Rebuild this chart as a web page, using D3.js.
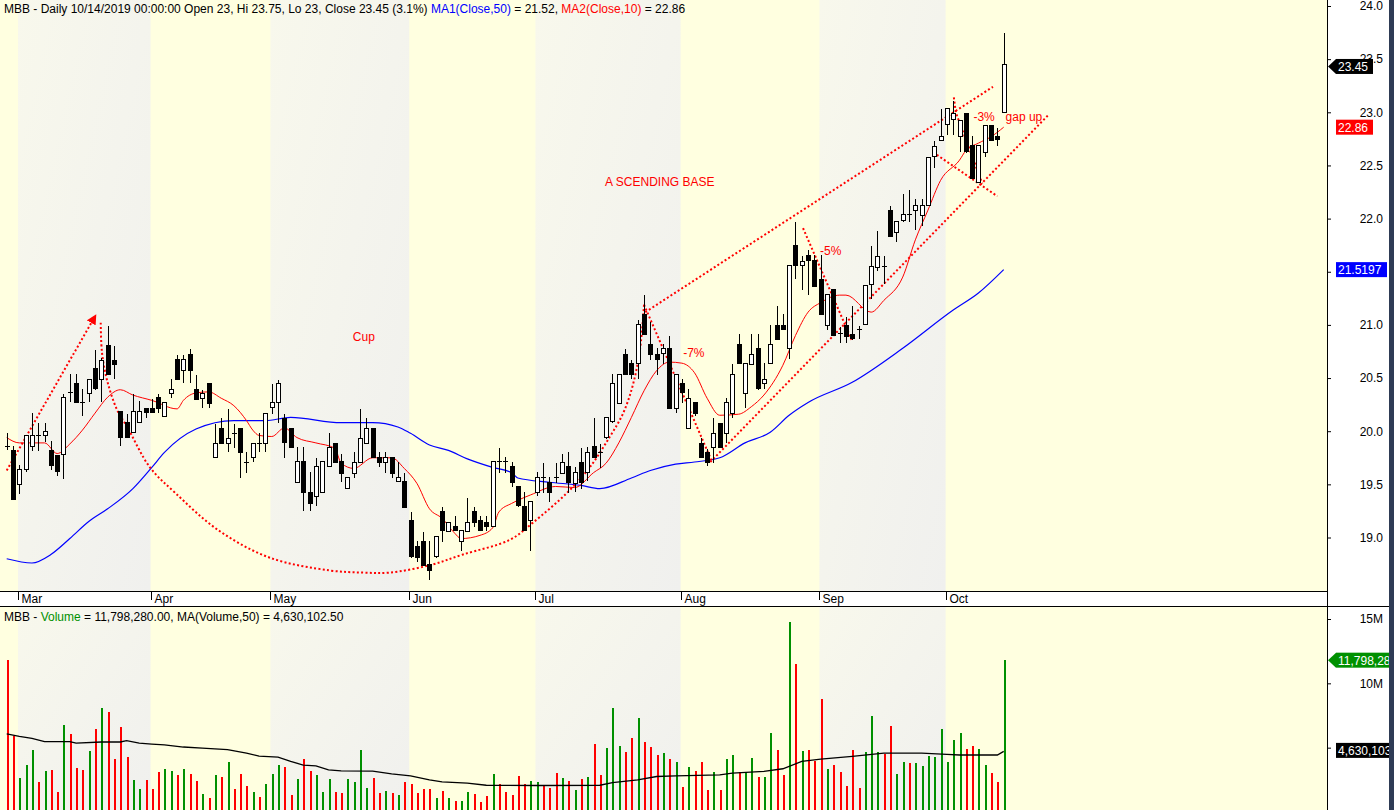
<!DOCTYPE html>
<html>
<head>
<meta charset="utf-8">
<script src="https://d3js.org/d3.v7.min.js"></script>
<style>
  body { margin: 0; background: #fff; }
  svg text { font-family: "Liberation Sans", Arial, sans-serif; font-size: 12px; }
</style>
</head>
<body>
<svg width="1394" height="810"></svg>
<script>
// ---- data (index 0 = 27 Feb 2019, last = 14 Oct 2019) ----
const opens  = [19.86,19.82,19.50,19.64,19.86,19.96,19.96,19.82,19.78,19.78,20.37,20.45,20.27,20.36,20.59,20.49,20.81,20.67,20.19,20.09,
  19.99,20.09,20.22,20.22,20.32,20.14,20.36,20.68,20.58,20.73,20.40,20.31,20.45,19.76,20.03,19.89,19.98,20.03,19.71,19.76,
  19.89,19.89,20.22,20.27,20.12,20.03,19.52,19.72,19.43,19.39,19.43,19.67,19.89,19.72,19.47,19.61,19.71,19.89,20.03,19.76,
  19.71,19.76,19.53,19.53,19.16,18.92,18.97,18.75,18.82,19.25,19.07,19.11,18.97,19.07,19.25,19.16,19.15,19.11,19.72,19.72,
  19.67,19.48,19.30,19.16,19.43,19.57,19.52,19.57,19.61,19.67,19.52,19.71,19.61,19.86,19.80,19.94,20.09,20.27,20.73,20.64,
  20.64,21.10,20.82,20.73,20.73,20.78,20.22,20.45,20.03,20.27,19.89,19.80,19.85,20.08,19.98,20.17,20.82,20.36,20.64,20.78,
  20.45,20.64,21.00,21.00,20.78,21.75,21.56,21.66,21.61,21.43,21.00,21.34,20.92,21.00,20.91,20.96,21.01,21.38,21.55,21.55,
  22.08,21.88,21.98,22.04,22.08,22.04,22.13,22.59,22.74,22.89,22.93,22.78,22.99,22.69,22.34,22.63,22.88,22.78,23.00];
const highs  = [19.98,19.86,19.68,19.96,20.17,20.08,20.08,19.91,19.78,20.35,20.54,20.54,20.40,20.49,20.76,20.69,20.99,20.80,20.19,20.16,
  20.35,20.28,20.22,20.30,20.35,20.27,20.49,20.72,20.72,20.77,20.53,20.39,20.45,20.07,20.12,20.21,20.07,20.03,19.80,19.89,
  19.98,20.17,20.44,20.48,20.16,20.03,19.85,19.85,19.62,19.75,19.72,19.98,19.89,19.79,19.57,19.80,20.21,20.12,20.03,19.80,
  19.80,19.76,19.71,19.61,19.24,18.97,19.05,18.97,19.01,19.29,19.15,19.20,19.07,19.37,19.29,19.20,19.20,19.72,19.84,19.76,
  19.71,19.48,19.43,19.34,19.62,19.70,19.57,19.70,19.79,19.80,19.66,19.84,19.85,20.12,19.88,20.13,20.54,20.54,20.77,20.67,
  21.05,21.28,21.03,20.78,20.82,20.90,20.54,20.49,20.40,20.27,19.94,19.83,20.12,20.08,20.31,20.63,20.91,20.64,20.91,20.91,
  20.64,21.00,21.18,21.10,21.56,21.97,21.65,21.70,21.66,21.66,21.29,21.34,20.98,21.07,21.18,20.99,21.38,21.74,21.88,21.65,
  22.12,21.98,22.23,22.27,22.18,22.18,22.58,22.73,23.03,23.04,23.11,22.93,22.99,22.78,22.69,22.88,22.88,22.85,23.75];
const lows   = [19.83,19.36,19.42,19.63,19.82,19.82,19.91,19.64,19.59,19.56,20.28,20.27,20.15,20.28,20.40,20.28,20.54,20.50,19.87,19.95,
  19.99,20.09,20.13,20.18,20.18,20.14,20.32,20.49,20.46,20.46,20.31,20.23,20.23,19.76,19.89,19.81,19.85,19.57,19.62,19.72,
  19.81,19.81,20.17,20.09,19.76,19.85,19.52,19.26,19.26,19.31,19.43,19.67,19.71,19.53,19.47,19.57,19.71,19.89,19.76,19.67,
  19.62,19.57,19.53,19.29,18.82,18.78,18.74,18.61,18.82,18.97,19.07,19.07,18.88,19.07,19.11,19.07,19.07,19.11,19.62,19.62,
  19.48,19.30,19.07,18.88,19.40,19.43,19.34,19.52,19.61,19.43,19.44,19.47,19.54,19.76,19.66,19.94,20.09,20.27,20.54,20.50,
  20.50,20.91,20.68,20.54,20.64,20.22,20.18,20.27,20.03,20.15,19.76,19.68,19.71,19.85,19.90,20.13,20.64,20.23,20.64,20.40,
  20.41,20.64,20.87,20.96,20.69,21.44,21.34,21.29,21.37,21.10,20.96,20.91,20.84,20.84,20.87,20.88,21.01,21.25,21.52,21.39,
  21.84,21.79,21.98,21.98,21.90,21.94,22.13,22.49,22.74,22.80,22.80,22.64,22.63,22.38,22.34,22.59,22.74,22.69,23.00];
const closes = [19.86,19.36,19.64,19.96,19.96,19.96,20.00,19.68,19.63,20.32,20.37,20.27,20.27,20.49,20.40,20.67,20.54,20.63,19.95,19.95,
  20.19,20.19,20.18,20.18,20.22,20.27,20.40,20.49,20.68,20.58,20.31,20.36,20.26,19.89,19.89,19.94,19.98,19.80,19.71,19.89,
  19.89,20.17,20.27,20.45,19.89,19.85,19.72,19.43,19.33,19.67,19.72,19.85,19.71,19.61,19.57,19.71,19.94,20.03,19.76,19.71,
  19.76,19.61,19.57,19.29,18.82,18.82,18.74,18.69,19.01,19.07,19.15,19.07,19.07,19.15,19.15,19.07,19.11,19.72,19.72,19.72,
  19.52,19.30,19.07,19.34,19.57,19.57,19.43,19.57,19.71,19.52,19.62,19.52,19.80,19.76,19.80,20.13,20.45,20.54,20.54,20.54,
  21.01,20.91,20.73,20.68,20.78,20.22,20.54,20.37,20.31,20.17,19.76,19.71,19.98,19.85,20.27,20.54,20.64,20.64,20.73,20.40,
  20.49,20.82,20.87,20.96,21.56,21.56,21.60,21.61,21.37,21.10,21.29,20.91,20.92,20.90,20.87,20.96,21.38,21.55,21.65,21.55,
  21.84,21.98,22.04,22.04,22.13,22.13,22.58,22.68,22.78,23.04,22.99,22.93,22.63,22.38,22.69,22.88,22.74,22.75,23.45];
// volume in millions of shares
const volumes = [11.82,5.88,2.68,3.67,4.84,2.34,3.20,3.28,1.56,6.80,6.09,3.44,3.28,4.77,6.48,8.05,7.81,4.14,6.64,4.30,
  2.50,1.80,2.50,1.80,3.13,3.36,3.20,2.89,3.36,2.97,2.42,1.41,1.09,2.89,2.73,3.91,1.80,2.97,2.03,1.56,
  1.17,2.19,2.97,3.67,3.52,1.33,2.58,4.14,3.20,2.89,1.56,2.58,1.56,1.48,2.58,2.34,4.84,1.88,2.66,1.48,
  1.64,1.48,1.33,2.34,2.19,1.48,1.80,1.80,1.09,1.64,1.09,0.86,0.86,1.56,1.41,0.78,1.25,2.97,2.19,1.56,
  1.33,2.81,2.19,2.42,2.34,2.11,1.88,3.05,2.66,2.42,1.72,2.58,2.73,5.31,2.89,5.00,8.05,5.16,4.69,5.78,
  7.34,5.47,5.08,4.45,4.61,4.14,3.91,1.95,3.52,3.20,3.91,1.72,3.13,1.72,4.14,4.45,3.13,3.13,4.22,2.73,
  2.73,6.17,4.84,2.89,14.77,11.48,4.77,4.84,3.98,8.75,3.36,3.67,3.13,2.03,4.84,1.88,4.69,7.50,4.69,4.53,
  6.72,2.97,3.91,3.83,3.83,3.59,4.38,4.30,6.48,3.91,5.63,6.17,4.92,5.16,4.92,3.67,3.05,2.34,11.80];

// moving averages as drawn (sampled along the lines)
const ma50Idx = [0,4,7,10,13,16,20,23,25,30,36,41,45,53,58,62,64,67,70,73,77,80,81,86,91,94,99,102,106,109,113,117,121,124,127,134,142,150,154,158];
const ma50Val = [18.80,18.76,18.84,18.99,19.15,19.27,19.46,19.66,19.80,20.02,20.10,20.10,20.13,20.08,20.08,20.04,19.98,19.87,19.82,19.74,19.66,19.61,19.56,19.52,19.49,19.46,19.56,19.63,19.69,19.71,19.75,19.89,19.99,20.15,20.27,20.46,20.78,21.14,21.30,21.52];
const ma10Idx = [0,2,6,8,10,12,14,16,18,20,23,27,28,30,32,34,36,38,39,40,42,44,46,49,52,53,55,58,61,63,65,67,69,71,72,75,77,78,80,81,83,87,90,93,95,97,99,101,103,105,107,109,111,113,116,118,120,123,125,127,129,132,133,137,139,142,144,146,148,151,152,154,156,158];
const ma10Val = [19.94,19.89,19.89,19.79,19.88,20.01,20.17,20.32,20.39,20.34,20.29,20.21,20.29,20.36,20.37,20.31,20.24,20.10,20.01,19.96,19.95,20.03,19.94,19.89,19.84,19.70,19.65,19.75,19.75,19.65,19.51,19.27,19.18,19.04,18.99,19.02,19.09,19.24,19.32,19.35,19.40,19.48,19.47,19.61,19.70,19.89,20.13,20.38,20.57,20.65,20.64,20.55,20.31,20.15,20.16,20.23,20.34,20.62,20.90,21.12,21.21,21.28,21.28,21.12,21.23,21.45,21.80,22.08,22.36,22.55,22.64,22.71,22.77,22.86];
const volMaIdx = [0,2,4,6,10,11,15,18,19,21,23,25,28,31,35,38,40,43,45,47,49,51,53,58,61,64,67,69,73,76,84,94,96,100,103,106,113,115,120,123,126,129,134,139,145,149,151,157,158];
const volMaVal = [6.07,5.88,5.72,5.47,5.47,5.36,5.44,5.44,5.55,5.36,5.28,5.21,5.05,4.97,4.84,4.58,4.35,4.27,3.93,3.65,3.59,3.28,3.20,3.18,2.97,2.81,2.50,2.34,2.24,2.08,2.06,2.08,2.29,2.50,2.76,2.81,2.89,3.02,3.15,3.36,3.93,4.11,4.32,4.58,4.58,4.48,4.43,4.43,4.71];

const monthLabels = ["Mar","Apr","May","Jun","Jul","Aug","Sep","Oct"];
const monthStart  = [2, 23, 42, 64, 84, 107, 129, 149];
const priceTicks  = [19.0,19.5,20.0,20.5,21.0,21.5,22.0,22.5,23.0,23.5,24.0];
const volTicks    = [5, 10, 15];

// hand-drawn annotations: [candle index, price]
const leftRise      = [[0,19.63],[13.8,21.06]];
const cupCurve      = [[14.9,21.02],[15.1,20.74],[15.9,20.48],[17.5,20.20],[19.1,20.04],[22.7,19.66],[26.7,19.42],[33.5,19.07],[41.7,18.81],[51.2,18.69],[56.5,18.67],[60.7,18.67],[67.1,18.74],[72.3,18.84],[79.8,18.98],[83.4,19.14],[88.8,19.42],[92.4,19.66],[95.6,19.95],[97.7,20.17],[99.3,20.45],[100.4,20.79],[101.0,21.19]];
const channelTop    = [[101.2,21.12],[156.3,23.24]];
const channelBottom = [[111.5,19.71],[165.0,22.97]];
const drop7         = [[101.0,21.19],[111.8,19.71]];
const drop5         = [[126.2,21.91],[133.9,20.86]];
const drop3         = [[150.1,23.14],[150.4,23.00],[154.6,22.33]];
const crossLine     = [[147.4,22.60],[157.0,22.21]];
const noteText  = ["Cup","A SCENDING BASE","-7%","-5%","-3%","gap up"];
const noteIdx   = [56.6, 103.5, 107.2, 128.9, 153.2, 158.3];
const notePrice = [20.89, 22.35, 20.74, 21.70, 22.96, 22.96];
const noteAnchor = ["middle","middle","start","start","start","start"];

// ---- layout ----
const svg = d3.select("svg");
const plotRight = 1327, borderX = 1389, W = 1394, H = 810;
const priceBottom = 591, volTop = 607;

const x  = d3.scaleLinear().domain([0, 158]).range([6.7, 1003.7]);
const y  = d3.scaleLinear().domain([19, 24]).range([537.5, 6]);
const yv = d3.scaleLinear().domain([0, 15]).range([812, 619]);
const px = i => Math.round(x(i));

const defs = svg.append("defs");
const grad = defs.append("linearGradient").attr("id", "shade").attr("x1", 0).attr("x2", 1).attr("y1", 0).attr("y2", 1);
grad.append("stop").attr("offset", 0).attr("stop-color", "#F8F8EC");
grad.append("stop").attr("offset", 1).attr("stop-color", "#F0F0EE");
defs.append("clipPath").attr("id", "clipP").append("rect").attr("x", 0).attr("y", 0).attr("width", plotRight).attr("height", priceBottom);
defs.append("clipPath").attr("id", "clipV").append("rect").attr("x", 0).attr("y", volTop).attr("width", plotRight).attr("height", H - volTop);
defs.append("marker").attr("id", "arrow").attr("viewBox", "0 0 10 10").attr("refX", 5).attr("refY", 5)
  .attr("markerWidth", 5).attr("markerHeight", 5).attr("orient", "auto").attr("markerUnits", "strokeWidth")
  .append("path").attr("d", "M0,0 L10,5 L0,10 z").attr("fill", "#FF0000");

// backgrounds
svg.append("rect").attr("x", 0).attr("y", 0).attr("width", plotRight).attr("height", H).attr("fill", "#FFFFE0");
svg.append("rect").attr("x", plotRight).attr("y", 0).attr("width", borderX - plotRight).attr("height", H).attr("fill", "#fff");

const bandEdge = k => k < monthStart.length ? x(monthStart[k]) - 1.3 : plotRight;
const shaded = [0, 2, 4, 6];
[[0, priceBottom], [volTop, H]].forEach(([t, b]) => {
  svg.append("g").selectAll("rect").data(shaded).join("rect")
    .attr("x", k => bandEdge(k)).attr("y", t)
    .attr("width", k => bandEdge(k + 1) - bandEdge(k)).attr("height", b - t)
    .attr("fill", "url(#shade)");
});

// date strip
svg.append("rect").attr("x", 0).attr("y", priceBottom).attr("width", plotRight).attr("height", volTop - priceBottom).attr("fill", "#fff");
svg.append("line").attr("x1", 0).attr("x2", plotRight).attr("y1", priceBottom + 0.5).attr("y2", priceBottom + 0.5).attr("stroke", "#000");
svg.append("line").attr("x1", 0).attr("x2", borderX).attr("y1", volTop - 0.5).attr("y2", volTop - 0.5).attr("stroke", "#000");
const mG = svg.append("g").selectAll("g").data(monthLabels).join("g")
  .attr("transform", (d, k) => `translate(${Math.round(bandEdge(k)) + 0.5},0)`);
mG.append("line").attr("y1", priceBottom + 1).attr("y2", priceBottom + 9).attr("stroke", "#000");
mG.append("text").attr("x", 3).attr("y", priceBottom + 12).attr("fill", "#000").text(d => d);

// price panel
const pG = svg.append("g").attr("clip-path", "url(#clipP)");
const idx = d3.range(opens.length);
const lineGen = d3.line().x(d => x(d[0])).y(d => y(d[1]));

pG.append("path").datum(ma50Idx.map((d, k) => [d, ma50Val[k]]))
  .attr("d", lineGen.curve(d3.curveMonotoneX)).attr("fill", "none").attr("stroke", "#0000FF").attr("stroke-width", 1.2);
pG.append("path").datum(ma10Idx.map((d, k) => [d, ma10Val[k]]))
  .attr("d", lineGen.curve(d3.curveMonotoneX)).attr("fill", "none").attr("stroke", "#FF0000").attr("stroke-width", 1);

// annotations
const dotted = (pts, curve, arrow) => {
  const p = pG.append("path").datum(pts)
    .attr("d", d3.line().x(d => x(d[0])).y(d => y(d[1])).curve(curve || d3.curveLinear))
    .attr("fill", "none").attr("stroke", "#FF0000").attr("stroke-width", 2).attr("stroke-dasharray", "2 2.3");
  if (arrow) p.attr("marker-end", "url(#arrow)");
};
dotted(leftRise, null, true);
dotted(cupCurve, d3.curveCatmullRom);
dotted(channelTop);
dotted(channelBottom);
dotted(drop7);
dotted(drop5);
dotted(drop3);
dotted(crossLine);

// candles
const cG = pG.append("g").attr("shape-rendering", "crispEdges");
cG.selectAll("line.wick").data(idx).join("line").attr("class", "wick")
  .attr("x1", i => px(i) + 0.5).attr("x2", i => px(i) + 0.5)
  .attr("y1", i => y(highs[i])).attr("y2", i => y(lows[i]) + 1).attr("stroke", "#000");
cG.selectAll("rect").data(idx.filter(i => opens[i] !== closes[i])).join("rect")
  .attr("x", i => px(i) - 1.5).attr("width", 4)
  .attr("y", i => Math.round(y(Math.max(opens[i], closes[i]))) + 0.5)
  .attr("height", i => Math.max(1, Math.round(Math.abs(y(opens[i]) - y(closes[i])))))
  .attr("fill", i => closes[i] > opens[i] ? "#fff" : "#000").attr("stroke", "#000");
cG.selectAll("line.doji").data(idx.filter(i => opens[i] === closes[i])).join("line").attr("class", "doji")
  .attr("x1", i => px(i) - 2).attr("x2", i => px(i) + 3)
  .attr("y1", i => Math.round(y(opens[i])) + 0.5).attr("y2", i => Math.round(y(opens[i])) + 0.5).attr("stroke", "#000");

// notes on top of the candles
pG.append("g").selectAll("text").data(noteText).join("text")
  .attr("x", (d, k) => x(noteIdx[k])).attr("y", (d, k) => y(notePrice[k])).attr("dy", "0.35em")
  .attr("text-anchor", (d, k) => noteAnchor[k]).attr("fill", "#FF0000").text(d => d);

// volume panel
const vG = svg.append("g").attr("clip-path", "url(#clipV)");
vG.append("g").attr("shape-rendering", "crispEdges").selectAll("rect").data(idx).join("rect")
  .attr("x", i => px(i) - 0.5).attr("width", 2)
  .attr("y", i => yv(volumes[i])).attr("height", i => yv(0) - yv(volumes[i]))
  .attr("fill", i => closes[i] > opens[i] ? "#009000" : "#FF0000");
vG.append("path").datum(volMaIdx.map((d, k) => [d, volMaVal[k]]))
  .attr("d", d3.line().x(d => x(d[0])).y(d => yv(d[1]))).attr("fill", "none").attr("stroke", "#000").attr("stroke-width", 1.3);

// right axes
const pAx = svg.append("g").attr("transform", `translate(${plotRight},0)`)
  .call(d3.axisRight(y).tickValues(priceTicks).tickSize(4).tickFormat(d3.format(".1f")));
const vAx = svg.append("g").attr("transform", `translate(${plotRight},0)`)
  .call(d3.axisRight(yv).tickValues(volTicks).tickSize(4).tickFormat(d => d + "M"));
[pAx, vAx].forEach(a => {
  a.select(".domain").remove();
  a.selectAll(".tick line").attr("stroke", "#000");
  a.selectAll(".tick text").attr("x", 56).attr("text-anchor", "end").attr("fill", "#000")
    .style("font-family", '"Liberation Sans", Arial, sans-serif').style("font-size", "12px");
});
svg.append("line").attr("x1", plotRight + 0.5).attr("x2", plotRight + 0.5).attr("y1", 0).attr("y2", H).attr("stroke", "#000");

// last-value tags
const tag = (yy, label, fill, w, arrow) => {
  const g = svg.append("g");
  if (arrow) g.append("path").attr("d", `M${plotRight + 1},${yy} L${plotRight + 9},${yy - 7.5} L${plotRight + 9},${yy + 7.5} z`).attr("fill", fill);
  g.append("rect").attr("x", plotRight + 9).attr("y", yy - 7.5).attr("width", w).attr("height", 15).attr("fill", fill);
  g.append("text").attr("x", plotRight + 11).attr("y", yy + 4.5).attr("fill", "#fff").text(label);
};
tag(y(closes[158]) + 2, "23.45", "#000", 37, true);
tag(y(ma10Val[ma10Val.length - 1]), "22.86", "#FF0000", 37, false);
tag(y(ma50Val[ma50Val.length - 1]), "21.5197", "#0000FF", 51, false);
tag(yv(volumes[158]), "11,798,280", "#009000", 60, true);
tag(yv(volMaVal[volMaVal.length - 1]) - 1, "4,630,103", "#000", 60, false);

svg.append("rect").attr("x", borderX).attr("y", 0).attr("width", W - borderX).attr("height", H).attr("fill", "#2E3B55");

// titles
const t1 = svg.append("text").attr("x", 4).attr("y", 13).attr("fill", "#000");
t1.append("tspan").text("MBB - Daily 10/14/2019 00:00:00 Open 23, Hi 23.75, Lo 23, Close 23.45 (3.1%) ");
t1.append("tspan").attr("fill", "#0000FF").text("MA1(Close,50)");
t1.append("tspan").text(" = 21.52, ");
t1.append("tspan").attr("fill", "#FF0000").text("MA2(Close,10)");
t1.append("tspan").text(" = 22.86");
const t2 = svg.append("text").attr("x", 4).attr("y", volTop + 14).attr("fill", "#000");
t2.append("tspan").text("MBB - ");
t2.append("tspan").attr("fill", "#009000").text("Volume");
t2.append("tspan").text(" = 11,798,280.00, MA(Volume,50) = 4,630,102.50");
</script>
</body>
</html>
